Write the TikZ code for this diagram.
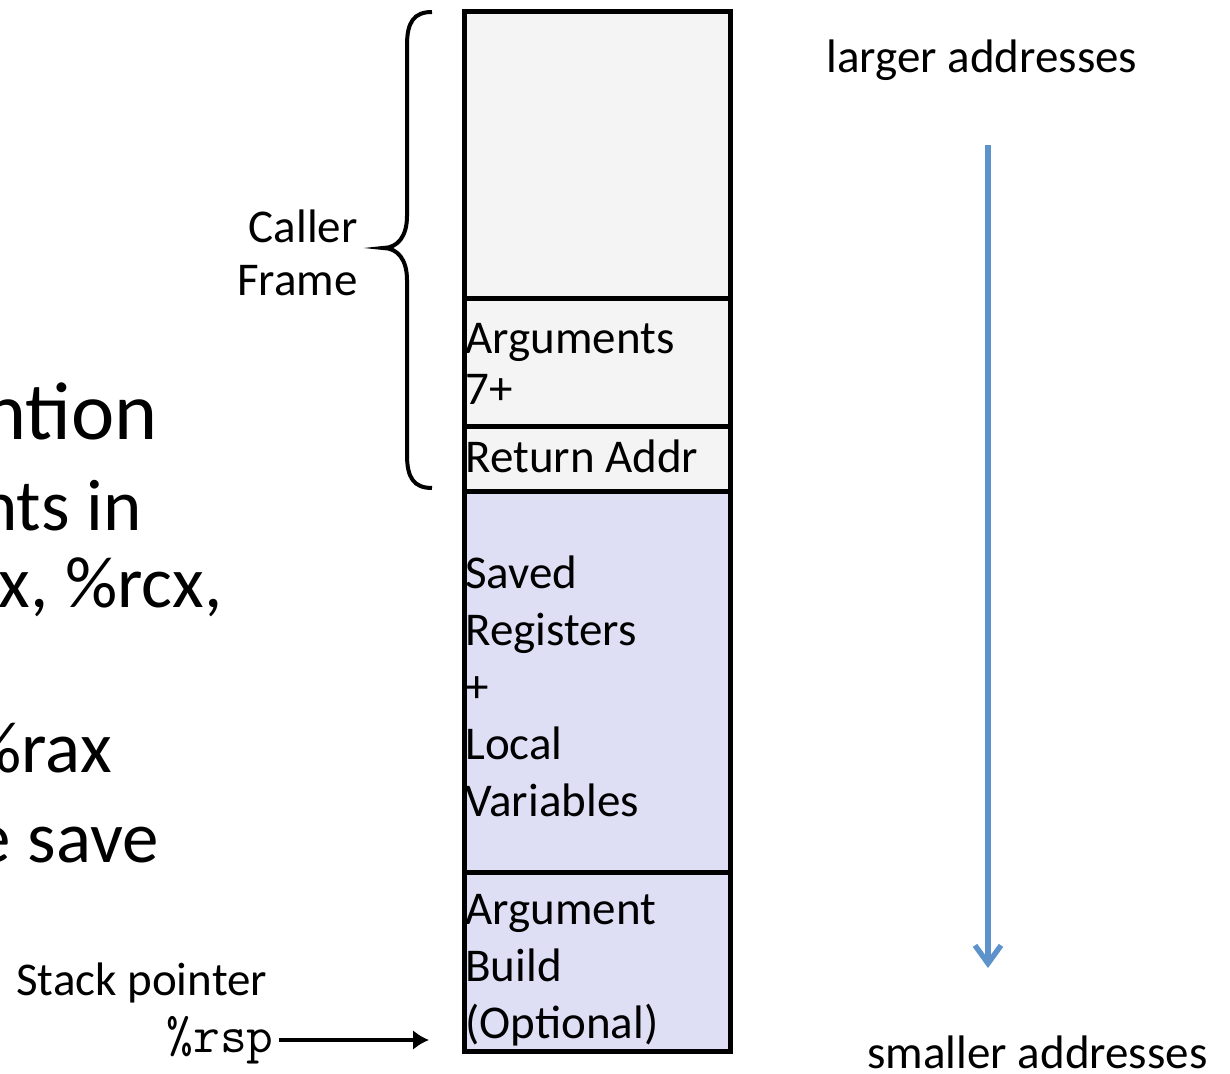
\documentclass[tikz,border=0pt]{standalone}
\usepackage{fontspec}
\setmainfont{Carlito}
\usetikzlibrary{arrows.meta}
\definecolor{framegray}{RGB}{244,244,244}
\definecolor{calleefill}{RGB}{222,222,245}
\definecolor{growblue}{RGB}{93,146,203}
\tikzset{cell/.style = {draw, line width=2.5pt},
         lbl/.style = {inner sep=0pt, align=left, anchor=base west,
                       font=\fontsize{23.5}{28.5}\selectfont},
         slide/.style = {inner sep=0pt, anchor=base east,
                         font=\fontsize{36.5}{40}\selectfont}}

\begin{document}
\begin{tikzpicture}[x=0.5pt, y=-0.5pt]
      \useasboundingbox (0,0) rectangle (1230,1074);
      \clip (0,0) rectangle (1230,1074);

      % bits of the slide text running off the left side
      \node [slide, font=\fontsize{41}{45}\selectfont] (title) at (158,440) {ntion};
      \node [slide] (regs) at (142,530) {nts in};
      \node [slide] (regs2) at (223,607) {dx, \%rcx,};
      \node [slide] (ret) at (112,772) {\%rax};
      \node [slide] (save) at (159,862) {e save};

      % the stack, top to bottom
      \draw [cell, fill=framegray] (464,12) rectangle (730,299);
      \draw [cell, fill=framegray] (464,299) rectangle (730,427);
      \draw [cell, fill=framegray] (464,427) rectangle (730,491);
      \draw [cell, fill=calleefill] (464,491) rectangle (730,872);
      \draw [cell, fill=calleefill] (464,872) rectangle (730,1051);

      % (base of a multi-line label is its last line)
      \node [lbl, font=\fontsize{23.5}{25.5}\selectfont] (args) at (465,405) {Arguments\\7+};
      \node [lbl] (retaddr) at (465,473) {Return Addr};
      \node [lbl] (locals) at (465,816) {Saved\\Registers\\+\\Local\\Variables};
      \node [lbl] (argbuild) at (465,1038) {Argument\\Build\\(Optional)};

      % caller frame brace
      \draw [line width=2pt] (432,12) .. controls (414,12) and (407,22) .. (407,45)
            -- (407,216) .. controls (407,236) and (398,248) .. (383,248)
            .. controls (398,248) and (407,260) .. (407,280)
            -- (407,455) .. controls (407,478) and (414,488) .. (432,488);
      \node [lbl, align=right, anchor=base east, font=\fontsize{23.5}{26.5}\selectfont]
            (caller) at (358,296) {Caller\\Frame};

      % addresses grow downwards
      \node [lbl] (larger) at (826,73) {larger addresses};
      \node [lbl] (smaller) at (867,1068) {smaller addresses};
      \coordinate (hi) at (988,145);
      \coordinate (lo) at (988,968);
      \draw [growblue, line width=2.7pt, -{Straight Barb[length=9pt, width=13pt]}] (hi) -- (lo);

      % stack pointer
      \node [lbl] (stackptr) at (16,995) {Stack pointer};
      \node [lbl, anchor=base east, font=\ttfamily\fontsize{26}{30}\selectfont] (rsp) at (274,1052) {\%rsp};
      \coordinate (sp) at (429,1040);
      \draw [line width=2pt, -{Latex[length=8pt, width=10pt]}] (rsp.east |- sp) ++(5,0) -- (sp);
\end{tikzpicture}
\end{document}
